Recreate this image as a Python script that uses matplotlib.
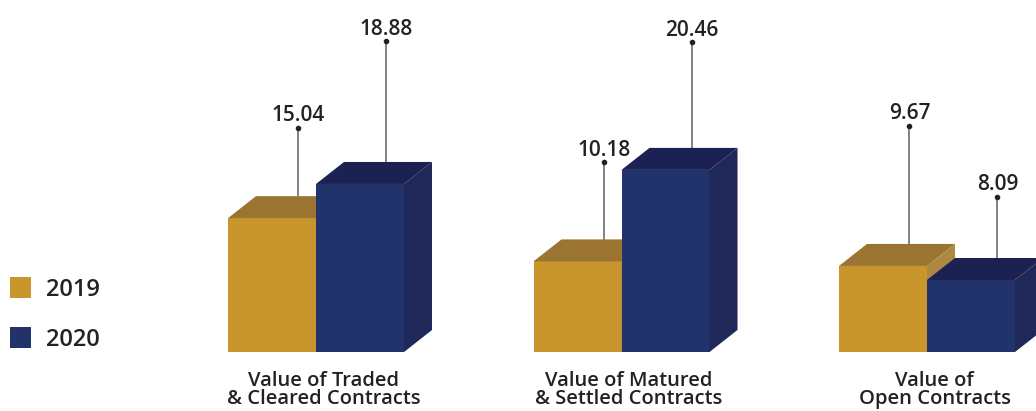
import numpy as np
import matplotlib.pyplot as plt
from matplotlib.patches import Rectangle, Polygon

categories = ["Value of Traded\n& Cleared Contracts",
              "Value of Matured\n& Settled Contracts",
              "Value of\nOpen Contracts"]
years = ["2019", "2020"]
values_2019 = [15.04, 10.18, 9.67]
values_2020 = [18.88, 20.46, 8.09]

# heights where the leader lines end (dot) for each bar
dot_2019 = [25.2, 21.3, 25.4]
dot_2020 = [34.9, 34.8, 17.4]

colors = {
    "2019": ("#C8962C", "#9A7430", "#AC8840"),   # front, top, side
    "2020": ("#22336B", "#1B2152", "#1F2858"),
}
FONT = "Open Sans"

W, H = 1036, 411
fig = plt.figure(figsize=(W / 100, H / 100), dpi=100)
ax = fig.add_axes([0, (H - 352) / H, 1, 352 / H])
px_x = 305.5
ax.set_xlim(-316 / px_x, (W - 316) / px_x)
ax.set_ylim(0, 352 / 8.9)
ax.axis("off")

width = 88 / px_x
dx = 28 / px_x
dy = 22 / 8.9

def bar3d(x0, h, cols):
    front, top, side = cols
    ax.add_patch(Rectangle((x0, 0), width, h, facecolor=front, edgecolor="none", zorder=2))
    ax.add_patch(Polygon([(x0, h), (x0 + dx, h + dy), (x0 + width + dx, h + dy), (x0 + width, h)],
                         closed=True, facecolor=top, edgecolor="none", zorder=2))
    ax.add_patch(Polygon([(x0 + width, 0), (x0 + width, h), (x0 + width + dx, h + dy), (x0 + width + dx, dy)],
                         closed=True, facecolor=side, edgecolor="none", zorder=2))

def leader(x0, h, top, val):
    lx = x0 + 0.8 * width
    ax.plot([lx, lx], [h + dy, top], color="#6E6E6E", lw=1.2, zorder=1)
    ax.plot(lx, top, "o", color="#222222", ms=3, zorder=3)
    ax.text(lx, top + 0.75, f"{val:.2f}", ha="center", va="baseline",
            fontsize=15, family=FONT, fontweight="semibold", color="#222222")

x = np.arange(len(categories))
for i in x:
    bar3d(i - width, values_2019[i], colors["2019"])
    bar3d(i, values_2020[i], colors["2020"])
    leader(i - width, values_2019[i], dot_2019[i], values_2019[i])
    leader(i, values_2020[i], dot_2020[i], values_2020[i])
    ax.text(i + 0.025, -2.1, categories[i], ha="center", va="top", fontsize=14.5,
            family=FONT, fontweight="semibold", color="#222222", linespacing=0.9,
            clip_on=False)

# legend
for k, (yr, ypx) in enumerate(zip(years, [287, 337])):
    fig.patches.append(Rectangle((10 / W, (H - ypx - 10.5) / H), 21 / W, 21 / H,
                                 transform=fig.transFigure, facecolor=colors[yr][0],
                                 edgecolor="none"))
    fig.text(46 / W, (H - ypx) / H, yr, ha="left", va="center_baseline", fontsize=17,
             family=FONT, fontweight="semibold", color="#222222")

fig.savefig("out.png", dpi=100)
